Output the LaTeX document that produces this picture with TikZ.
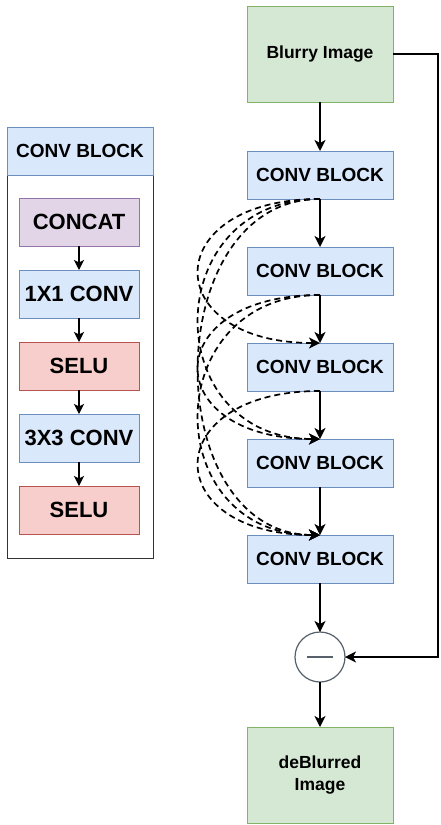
\documentclass[tikz,border=0pt]{standalone}
\usepackage{fontspec}
\setmainfont{Liberation Sans}
\usetikzlibrary{arrows.meta, positioning}

\definecolor{convfill}{HTML}{DAE8FC}
\definecolor{convline}{HTML}{6C8EBF}
\definecolor{imgfill}{HTML}{D5E8D4}
\definecolor{imgline}{HTML}{82B366}
\definecolor{catfill}{HTML}{E1D5E7}
\definecolor{catline}{HTML}{9673A6}
\definecolor{selufill}{HTML}{F8CECC}
\definecolor{seluline}{HTML}{B85450}
\definecolor{subline}{HTML}{56606B}

\begin{document}
\begin{tikzpicture}[x=1pt, y=-1pt,
    box/.style={draw, line width=1pt, inner sep=0pt, outer sep=0pt, align=center,
                font=\bfseries\fontsize{19}{22}\selectfont},
    conv/.style={box, draw=convline, fill=convfill, minimum width=146pt, minimum height=48pt},
    imgbox/.style={box, draw=imgline, fill=imgfill, minimum width=146pt, minimum height=96pt,
                font=\bfseries\fontsize{17.5}{21.5}\selectfont},
    layer/.style={box, minimum width=120pt, minimum height=48pt,
                font=\bfseries\fontsize{22}{26}\selectfont},
    arr/.style={line width=1.6pt, -{Stealth[length=11pt, width=11pt, inset=3pt]}},
    smallarr/.style={line width=1.5pt, -{Stealth[length=10pt, width=10pt, inset=2.5pt]}},
    skip/.style={arr, line width=1.7pt, dash pattern=on 6pt off 4pt},
]
\useasboundingbox (0,0) rectangle (440,825);

% conv block detail
\node[draw=black!80, line width=1pt, minimum width=146pt, minimum height=431pt,
      anchor=north] (panel) at (80,127) {};
\node[conv] (hdr) at (80,151) {CONV BLOCK};
\node[layer, draw=catline, fill=catfill] (concat) at (79,222) {CONCAT};
\node[layer, draw=convline, fill=convfill, below=24pt of concat] (conva) {1X1 CONV};
\node[layer, draw=seluline, fill=selufill, below=24pt of conva] (selua) {SELU};
\node[layer, draw=convline, fill=convfill, below=24pt of selua] (convb) {3X3 CONV};
\node[layer, draw=seluline, fill=selufill, below=24pt of convb] (selub) {SELU};

\foreach \a/\b in {concat/conva, conva/selua, selua/convb, convb/selub}{
  \draw[smallarr] (\a) -- (\b);
}

% main network
\node[imgbox] (blurry) at (320,54) {Blurry Image};
\node[conv, below=49pt of blurry] (c1) {CONV BLOCK};
\node[conv, below=48pt of c1] (c2) {CONV BLOCK};
\node[conv, below=48pt of c2] (c3) {CONV BLOCK};
\node[conv, below=48pt of c3] (c4) {CONV BLOCK};
\node[conv, below=48pt of c4] (c5) {CONV BLOCK};
\node[circle, draw=subline, fill=white, line width=1.2pt, minimum size=50pt,
      inner sep=0pt, outer sep=0pt, below=49pt of c5] (sub) {};
\draw[subline, line width=1.6pt] ([xshift=-13pt]sub.center) -- ([xshift=13pt]sub.center);
\node[imgbox, below=45pt of sub] (deblur) {deBlurred\\Image};

\foreach \a/\b in {blurry/c1, c1/c2, c2/c3, c3/c4, c4/c5, c5/sub, sub/deblur}{
  \draw[arr] (\a) -- (\b);
}

% dense skip connections
\foreach \a/\b in {c1/c3, c1/c4, c1/c5, c2/c4, c2/c5, c3/c5}{
  \draw[skip] (\a.south) .. controls +(-162,0) and +(-162,0) .. (\b.north);
}

% residual path
\coordinate (rside) at (438,54);
\draw[arr] (blurry.east) -- (rside) |- (sub.east);

\end{tikzpicture}
\end{document}
